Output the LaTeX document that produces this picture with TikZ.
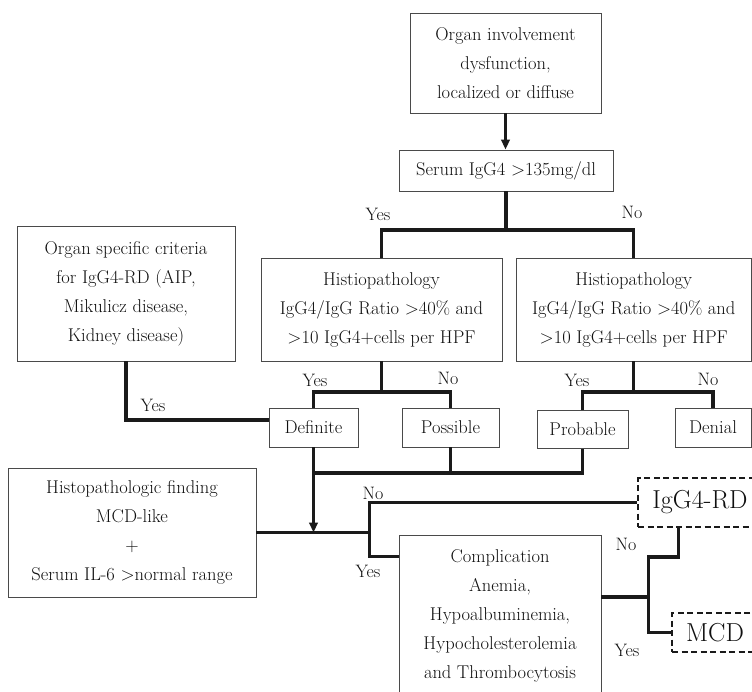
\documentclass[tikz,border=0pt]{standalone}
\usepackage{xcolor}
\definecolor{cLine}{HTML}{1A1A1A}
\definecolor{cBox}{HTML}{4A4A4A}
\definecolor{cText}{HTML}{101010}
\usepackage{tikz}
\usetikzlibrary{positioning,arrows.meta,calc}
\tikzset{
  node-box/.style={draw=cBox,line width=0.9pt,inner sep=0pt,align=center,
    text=cText,font=\fontsize{18.5}{29}\selectfont},
  node-end/.style={draw=cLine,line width=1.8pt,dash pattern=on 6pt off 3.5pt,
    inner sep=0pt,text=cText,font=\fontsize{26}{30}\selectfont},
  node-lbl/.style={inner sep=0pt,text=cText,font=\fontsize{18}{20}\selectfont},
  link/.style={line width=3.2pt,draw=cLine},
  link-thin/.style={line width=2.2pt,draw=cLine},
  arrow/.style={-{Triangle[length=10pt,width=8.5pt]},line width=2.4pt,draw=cLine},
}

\begin{document}
\begin{tikzpicture}[x=1pt,y=1pt]
  \clip (0,0) rectangle (752,-692);
  % top of the tree
  \node[node-box,minimum width=191pt,minimum height=100pt] (organ) at (505.5,-63)
    {Organ involvement\\dysfunction,\\localized or diffuse};
  \node[node-box,minimum width=214pt,minimum height=41pt] (serum) at (506,-170.5)
    {Serum IgG4 >135mg/dl};
  \node[node-box,minimum width=218pt,minimum height=135pt] (spec) at (126,-293.5)
    {Organ specific criteria\\for IgG4-RD (AIP,\\Mikulicz disease,\\Kidney disease)};
  \node[node-box,minimum width=241pt,minimum height=103pt] (histA) at (381.5,-309.5)
    {Histiopathology\\IgG4/IgG Ratio >40\% and\\>10 IgG4+cells per HPF};
  \node[node-box,minimum width=235.5pt,minimum height=103pt] (histB) at (633.75,-309.5)
    {Histiopathology\\IgG4/IgG Ratio >40\% and\\>10 IgG4+cells per HPF};
  % grades
  \node[node-box,minimum width=89pt,minimum height=39pt] (definite) at (313.5,-427.5) {Definite};
  \node[node-box,minimum width=97pt,minimum height=39pt] (possible) at (450.5,-427.5) {Possible};
  \node[node-box,minimum width=91pt,minimum height=38pt] (probable) at (582.5,-429.5) {Probable};
  \node[node-box,minimum width=76pt,minimum height=39pt] (denial) at (713,-427.5) {Denial};
  % lower part
  \node[node-box,minimum width=248pt,minimum height=129pt] (histo) at (132,-532.5)
    {Histopathologic finding\\MCD-like\\+\\Serum IL-6 >normal range};
  \node[node-box,minimum width=202pt,minimum height=162pt] (comp) at (500,-616)
    {Complication\\Anemia,\\Hypoalbuminemia,\\Hypocholesterolemia\\and Thrombocytosis};
  \node[node-end,minimum width=124pt,minimum height=49pt] (igg) at (700,-502.5) {IgG4-RD};
  \node[node-end,minimum width=86pt,minimum height=39pt] (mcd) at (715,-632.5) {MCD};

  % branch points
  \coordinate (split1) at (serum.south |- 0,-230);
  \coordinate (split2) at (histA.south |- 0,-392);
  \coordinate (split3) at (histB.south |- 0,-392);
  \coordinate (join) at (definite.south |- 0,-473);
  \coordinate (fork) at ($(histo.east)+(113,0)$);
  \coordinate (fork2) at ($(comp.east)+(47,19)$);
  \coordinate (iggin) at ($(igg.south west)+(41,0)$);

  \draw[arrow] (organ.south) -- (organ.south |- serum.north);
  \draw[link] (serum.south) -- (split1);
  \draw[link] (histA.north) |- (split1) -| (histB.north);
  \draw[link] (histA.south) -- (split2);
  \draw[link] (definite.north) |- (split2) -| (possible.north);
  \draw[link] (histB.south) -- (split3);
  \draw[link] (probable.north) |- (split3) -| (denial.north);
  \draw[link] (spec.south) |- ($(definite.west)+(0,7.5)$);
  \draw[link] (probable.south) |- (join);
  \draw[link] (possible.south) -- (possible.south |- join);
  \draw[arrow] (definite.south) -- (definite.south |- histo.east);
  \draw[link] (histo.east) -- (fork);
  \draw[link-thin] (igg.west) -| (fork);
  \draw[link] (fork) |- ($(comp.north west)+(0,-22)$);
  \draw[link] (comp.east |- fork2) -- (fork2);
  \draw[link] (mcd.west) -| (fork2);
  \draw[link] (fork2) |- ($(iggin)+(0,-29)$) -- (iggin);

  % labels
  \node[node-lbl] (yes1) at (378,-214) {Yes};
  \node[node-lbl] (no1) at (632,-212) {No};
  \node[node-lbl] (yes2) at (315,-380) {Yes};
  \node[node-lbl] (no2) at (448,-378) {No};
  \node[node-lbl] (yes3) at (577,-380) {Yes};
  \node[node-lbl] (no3) at (708,-379) {No};
  \node[node-lbl] (yes4) at (153,-405) {Yes};
  \node[node-lbl] (no5) at (373,-493) {No};
  \node[node-lbl] (yes5) at (368,-571) {Yes};
  \node[node-lbl] (no6) at (626,-544) {No};
  \node[node-lbl] (yes6) at (627,-650) {Yes};
\end{tikzpicture}
\end{document}
